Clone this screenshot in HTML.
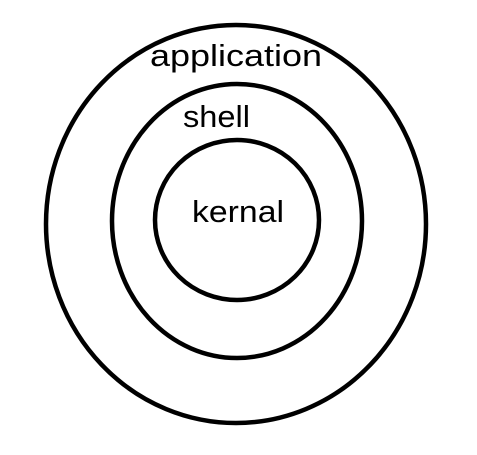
<!DOCTYPE html>
<html><head><style>html,body{margin:0;padding:0;background:#fff;}svg{display:block;}</style></head>
<body>
<svg width="477" height="455" viewBox="0 0 477 455" xmlns="http://www.w3.org/2000/svg">
<g fill="none" stroke="#000" stroke-width="4.5">
<ellipse cx="236" cy="224" rx="190" ry="199"/>
<ellipse cx="237" cy="221" rx="125" ry="137"/>
<ellipse cx="237" cy="220" rx="82" ry="80"/>
</g>
<g font-family="Liberation Sans, sans-serif" font-size="31" fill="#000">
<text x="150" y="66" textLength="172" lengthAdjust="spacingAndGlyphs">application</text>
<text x="183" y="127" textLength="67" lengthAdjust="spacingAndGlyphs">shell</text>
<text x="192" y="222" textLength="92" lengthAdjust="spacingAndGlyphs">kernal</text>
</g>
</svg>
</body></html>
